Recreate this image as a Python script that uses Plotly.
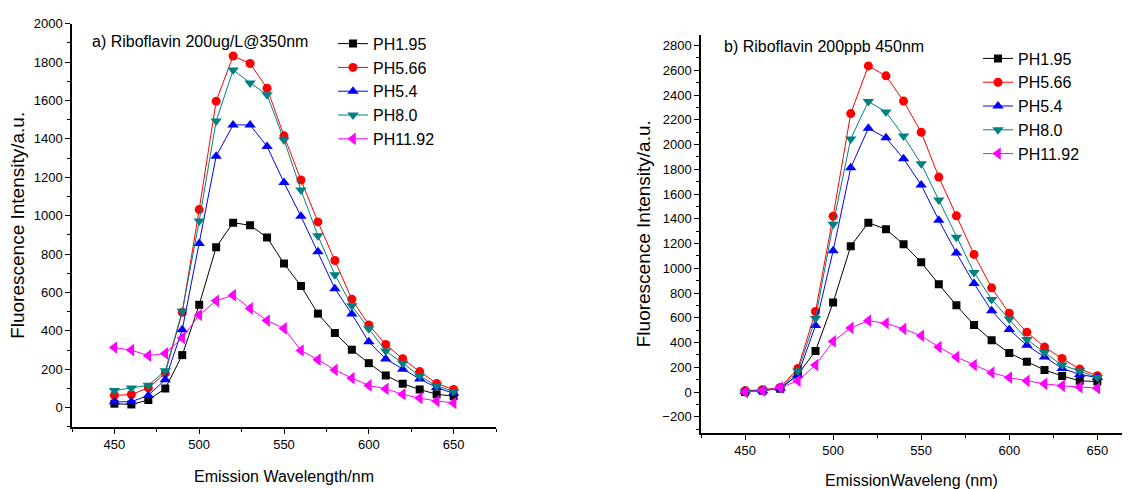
import plotly.graph_objects as go

W, H = 1133, 489

wavelength = list(range(450, 651, 10))
series_names = ["PH1.95", "PH5.66", "PH5.4", "PH8.0", "PH11.92"]

# Panel a) Riboflavin 200ug/L @350nm
a_ph195 = [21, 17, 40, 100, 274, 536, 836, 964, 950, 887, 751, 634, 490, 389, 302, 232, 168, 125, 95, 70, 60]
a_ph566 = [64, 69, 103, 180, 497, 1032, 1597, 1832, 1793, 1664, 1416, 1186, 968, 767, 565, 431, 329, 255, 188, 126, 95]
a_ph54 = [31, 31, 64, 146, 406, 856, 1310, 1473, 1473, 1361, 1173, 997, 813, 620, 488, 343, 254, 200, 150, 105, 75]
a_ph80 = [89, 103, 117, 192, 502, 973, 1493, 1759, 1692, 1630, 1395, 1134, 896, 693, 531, 411, 296, 232, 165, 115, 85]
a_ph1192 = [313, 300, 271, 283, 363, 483, 557, 586, 517, 454, 413, 298, 250, 197, 154, 116, 98, 70, 50, 35, 25]

# Panel b) Riboflavin 200ppb 450nm
b_ph195 = [0, 11, 27, 143, 332, 723, 1179, 1368, 1316, 1194, 1048, 871, 701, 542, 418, 316, 245, 178, 131, 91, 85]
b_ph566 = [11, 19, 37, 191, 651, 1421, 2250, 2635, 2555, 2351, 2099, 1737, 1424, 1112, 842, 637, 484, 364, 271, 186, 133]
b_ph54 = [6, 11, 32, 138, 537, 1141, 1812, 2131, 2054, 1886, 1673, 1389, 1124, 877, 657, 505, 378, 284, 191, 143, 117]
b_ph80 = [0, 11, 32, 170, 595, 1355, 2045, 2348, 2263, 2068, 1844, 1551, 1251, 967, 749, 590, 425, 319, 218, 170, 117]
b_ph1192 = [0, 11, 37, 91, 218, 409, 518, 577, 556, 510, 455, 364, 284, 218, 157, 117, 91, 67, 51, 40, 32]

colors = ["#000000", "#FF0000", "#0000FF", "#008080", "#FF00FF"]
symbols = ["square", "circle", "triangle-up", "triangle-down", "triangle-left"]
sizes = [8, 9, 10, 10, 11]

FONT = "Liberation Sans, Arial, sans-serif"

fig = go.Figure()
panel_a = [a_ph195, a_ph566, a_ph54, a_ph80, a_ph1192]
panel_b = [b_ph195, b_ph566, b_ph54, b_ph80, b_ph1192]

for i, (name, ys) in enumerate(zip(series_names, panel_a)):
    fig.add_trace(go.Scatter(
        x=wavelength, y=ys, name=name, mode="lines+markers",
        line=dict(color=colors[i], width=1),
        marker=dict(symbol=symbols[i], size=sizes[i], color=colors[i]),
        xaxis="x", yaxis="y", legend="legend"))
for i, (name, ys) in enumerate(zip(series_names, panel_b)):
    fig.add_trace(go.Scatter(
        x=wavelength, y=ys, name=name, mode="lines+markers",
        line=dict(color=colors[i], width=1),
        marker=dict(symbol=symbols[i], size=sizes[i], color=colors[i]),
        xaxis="x2", yaxis="y2", legend="legend2"))

def px_x(p):
    return p / W

def px_y(p):
    return 1 - p / H

axis_common = dict(
    showline=True, linecolor="black", linewidth=1.5, mirror=False,
    ticks="outside", ticklen=5, tickwidth=1, tickcolor="black",
    showgrid=False, zeroline=False,
    tickfont=dict(family=FONT, size=13, color="black"),
)

fig.update_layout(
    width=W, height=H,
    margin=dict(l=0, r=0, t=0, b=0),
    paper_bgcolor="white", plot_bgcolor="white",
    font=dict(family=FONT, color="black"),
    xaxis=dict(domain=[px_x(72), px_x(496)], range=[425, 675], anchor="y",
               tickvals=[450, 500, 550, 600, 650],
               minor=dict(tickvals=[425, 475, 525, 575, 625, 675], ticklen=3, ticks="outside", tickcolor="black"),
               title=dict(text="Emission Wavelength/nm", font=dict(family=FONT, size=16), standoff=20),
               **axis_common),
    yaxis=dict(domain=[px_y(426), px_y(17)], range=[-100, 2000], anchor="x",
               dtick=200, tick0=0,
               minor=dict(dtick=100, ticklen=3, ticks="outside", tickcolor="black"),
               title=dict(text="Fluorescence Intensity/a.u.", font=dict(family=FONT, size=19), standoff=4),
               **axis_common),
    xaxis2=dict(domain=[px_x(701), px_x(1122)], range=[425, 664], anchor="y2",
                tickvals=[450, 500, 550, 600, 650],
                minor=dict(tickvals=[425, 475, 525, 575, 625], ticklen=3, ticks="outside", tickcolor="black"),
                title=dict(text="EmissionWaveleng (nm)", font=dict(family=FONT, size=16), standoff=20),
                **axis_common),
    yaxis2=dict(domain=[px_y(432), px_y(28)], range=[-329, 2888], anchor="x2",
                dtick=200, tick0=0,
                minor=dict(dtick=100, ticklen=3, ticks="outside", tickcolor="black"),
                title=dict(text="Fluorescence Intensity/a.u.", font=dict(family=FONT, size=19), standoff=7),
                **axis_common),
    legend=dict(x=px_x(333), y=px_y(20), xanchor="left", yanchor="top",
                font=dict(family=FONT, size=16), bgcolor="rgba(0,0,0,0)",
                tracegroupgap=0, itemwidth=30),
    legend2=dict(x=px_x(978), y=px_y(35), xanchor="left", yanchor="top",
                 font=dict(family=FONT, size=16), bgcolor="rgba(0,0,0,0)",
                 tracegroupgap=0, itemwidth=30),
    annotations=[
        dict(text="a) Riboflavin 200ug/L@350nm", x=px_x(90), y=px_y(35),
             xref="paper", yref="paper", xanchor="left", yanchor="middle",
             showarrow=False, font=dict(family=FONT, size=16, color="black")),
        dict(text="b) Riboflavin 200ppb 450nm", x=px_x(722), y=px_y(40),
             xref="paper", yref="paper", xanchor="left", yanchor="middle",
             showarrow=False, font=dict(family=FONT, size=16, color="black")),
    ],
)

fig.write_html("out.html")
